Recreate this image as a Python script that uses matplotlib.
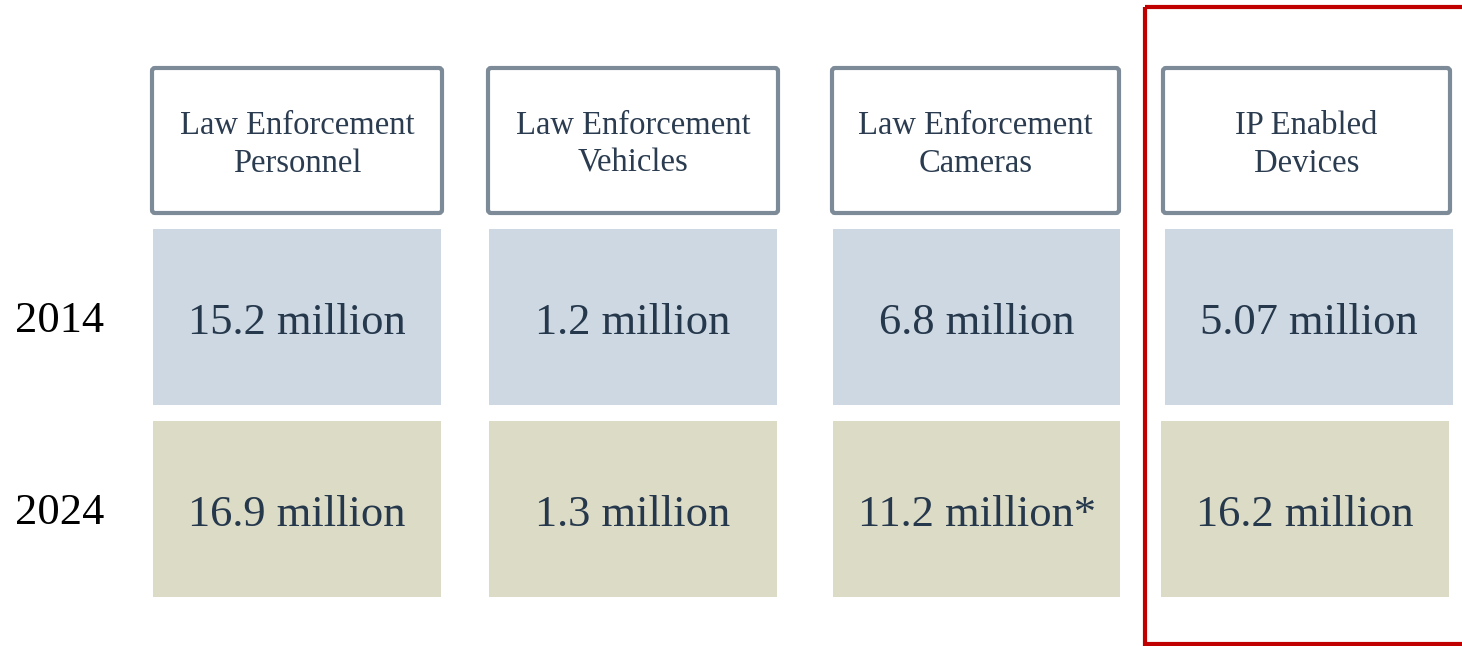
import matplotlib.pyplot as plt
from matplotlib.patches import Rectangle, FancyBboxPatch

categories = ['Law Enforcement\nPersonnel', 'Law Enforcement\nVehicles',
              'Law Enforcement\nCameras', 'IP Enabled\nDevices']
years = ['2014', '2024']
values_2014 = ['15.2 million', '1.2 million', '6.8 million', '5.07 million']
values_2024 = ['16.9 million', '1.3 million', '11.2 million*', '16.2 million']

# layout in pixel space (canvas 1462 x 646)
head_x = [152, 488, 832, 1163]
head_w = [290, 290, 287, 287]
row1_x = [153, 489, 833, 1165]
row2_x = [153, 489, 833, 1161]
cell_w = [288, 288, 287, 288]
head_y, head_h = 68, 145
rows_y = [229, 421]
row_h = 176

fig = plt.figure(figsize=(14.62, 6.46), dpi=100)
ax = fig.add_axes([0, 0, 1, 1])
ax.set_xlim(0, 1462)
ax.set_ylim(646, 0)
ax.axis('off')

serif = 'Liberation Serif'
txt_col = '#26384c'
fills = ['#cdd8e2', '#dcdbc6']

for i, cat in enumerate(categories):
    box = FancyBboxPatch((head_x[i], head_y), head_w[i], head_h,
                         boxstyle='round,pad=0,rounding_size=3',
                         facecolor='white', edgecolor='#7d8a97', linewidth=3)
    ax.add_patch(box)
    ax.text(head_x[i] + head_w[i] / 2, head_y + head_h / 2 + 4, cat,
            ha='center', va='center', fontsize=23.5, family=serif,
            color='#2b3c50', linespacing=1.32)

for r, (vals, xs) in enumerate([(values_2014, row1_x), (values_2024, row2_x)]):
    for i, v in enumerate(vals):
        ax.add_patch(Rectangle((xs[i], rows_y[r]), cell_w[i], row_h,
                               facecolor=fills[r], edgecolor='none'))
        ax.text(xs[i] + cell_w[i] / 2, rows_y[r] + row_h / 2 + 6, v,
                ha='center', va='center', fontsize=32, family=serif,
                color=txt_col)
    ax.text(60, rows_y[r] + row_h / 2 + 4, years[r], ha='center', va='center',
            fontsize=32, family=serif, color='black')

# red highlight frame around the last column
ax.add_patch(Rectangle((1145, 7), 340, 637, facecolor='none',
                       edgecolor='#c00000', linewidth=3, clip_on=False))

fig.savefig('out.png', dpi=100)
